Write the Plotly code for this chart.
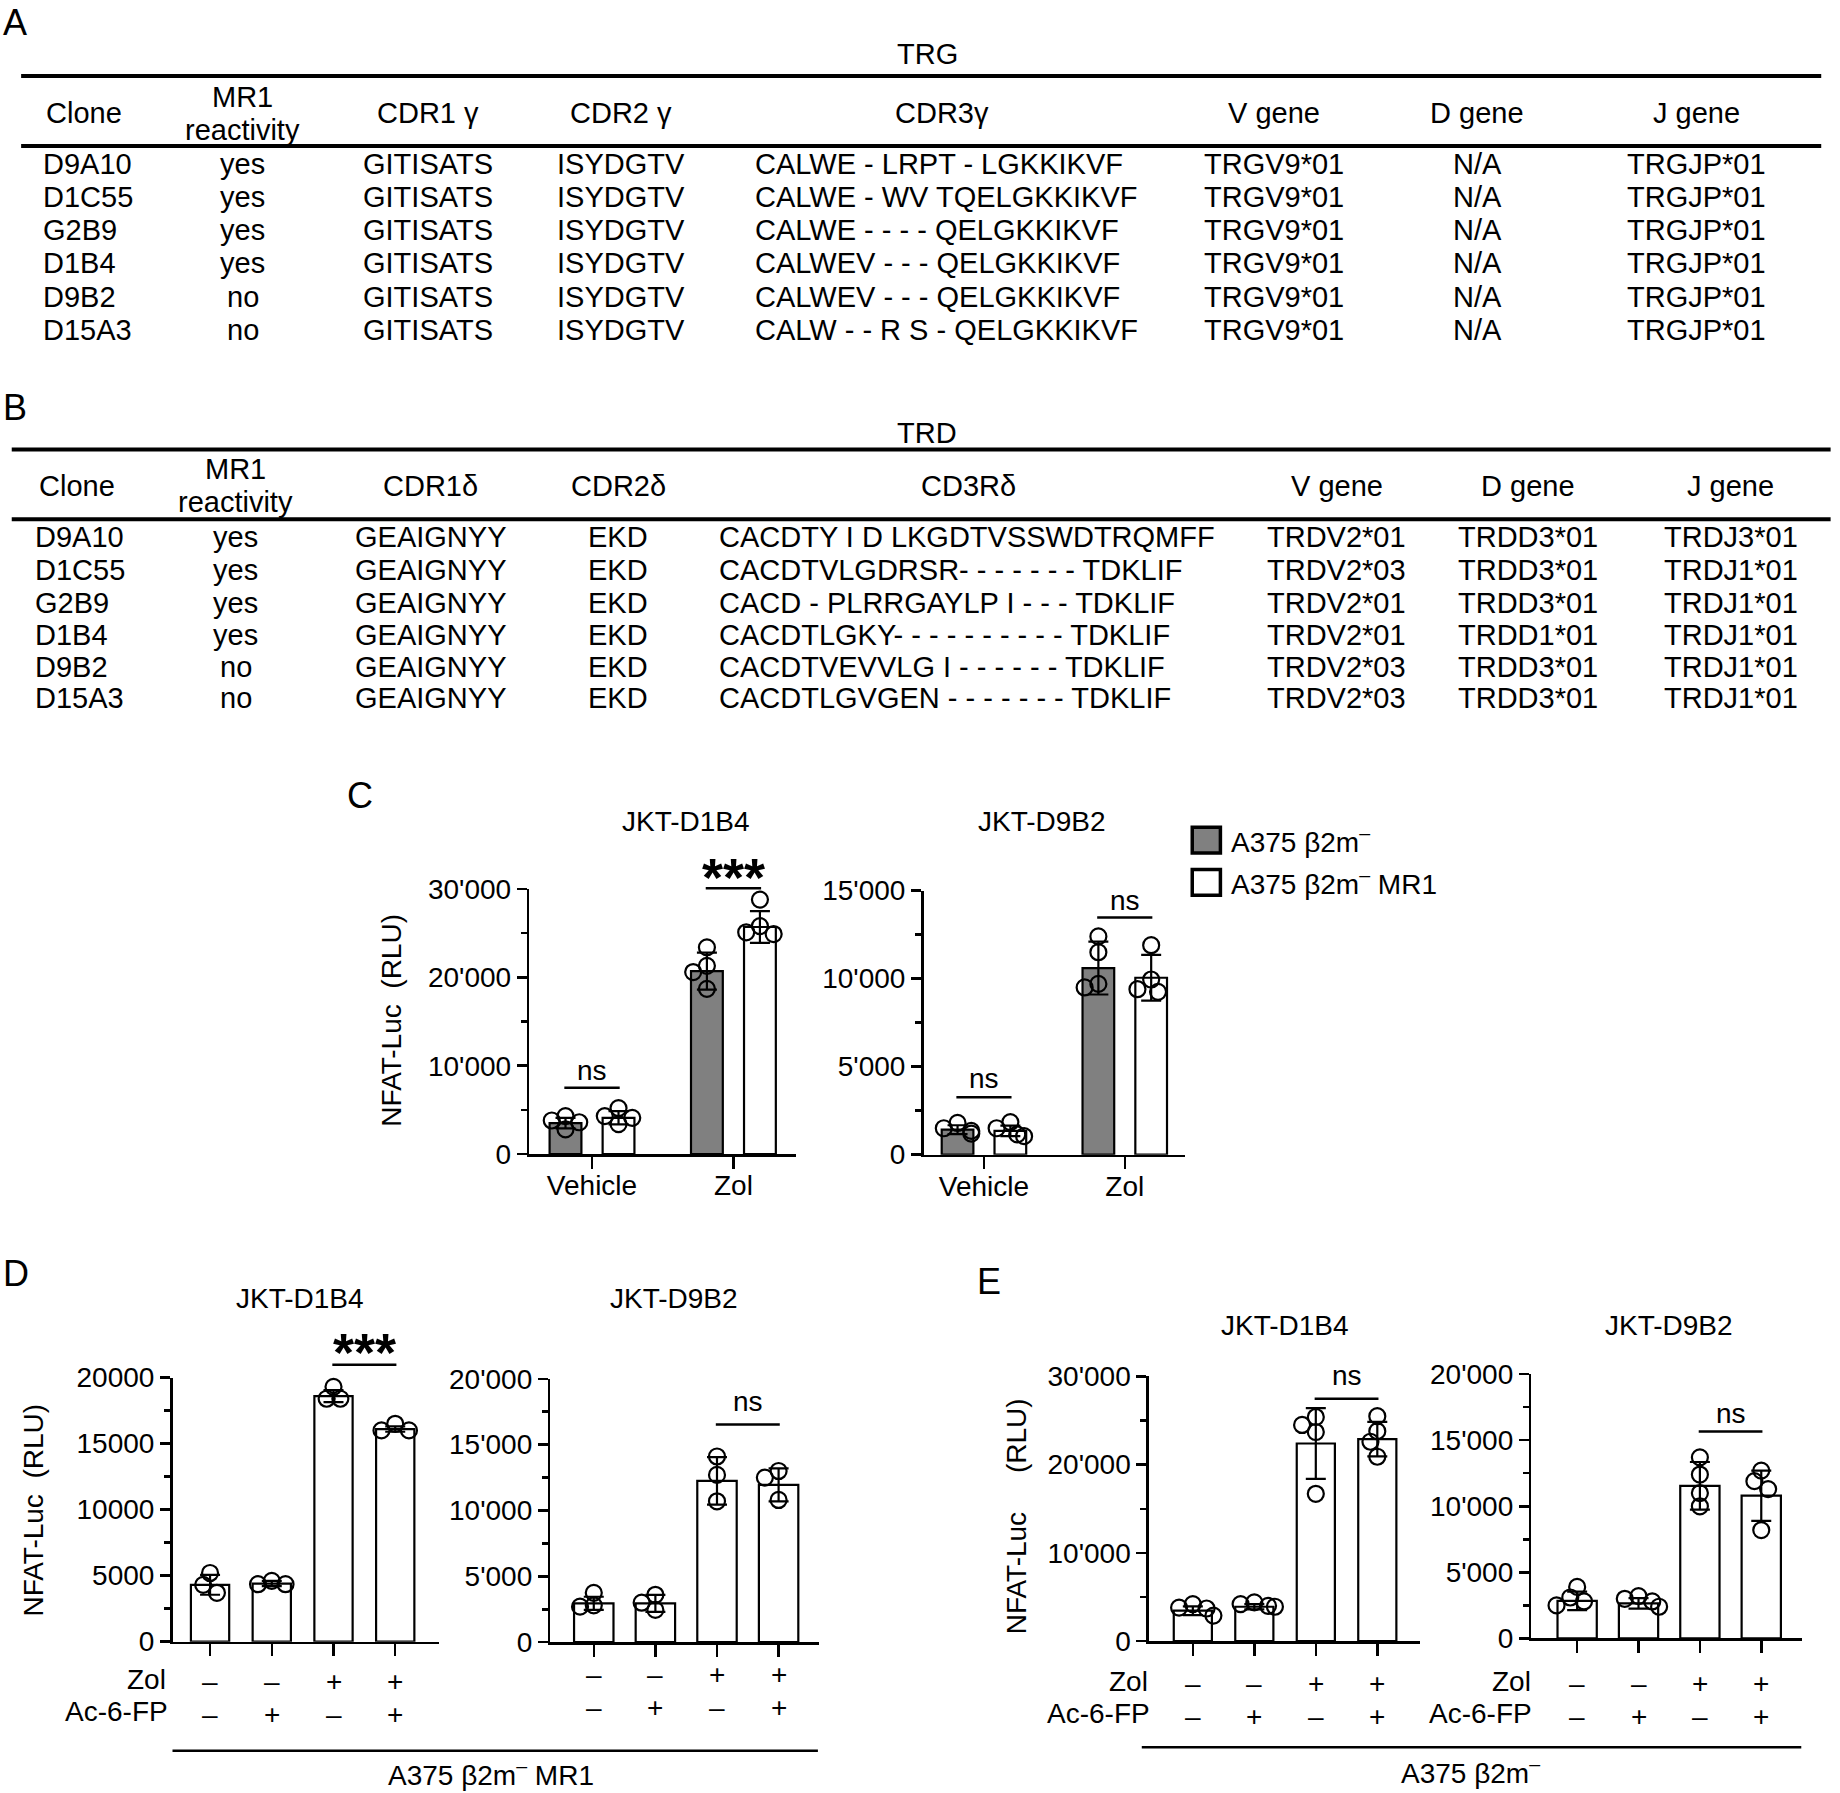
import plotly.graph_objects as go

# ===================== TABLE DATA =====================
clones = ["D9A10", "D1C55", "G2B9", "D1B4", "D9B2", "D15A3"]
mr1_reactivity = ["yes", "yes", "yes", "yes", "no", "no"]

trg_headers = ["Clone", "MR1<br>reactivity", "CDR1 γ", "CDR2 γ", "CDR3γ", "V gene", "D gene", "J gene"]
trg_cdr1 = ["GITISATS", "GITISATS", "GITISATS", "GITISATS", "GITISATS", "GITISATS"]
trg_cdr2 = ["ISYDGTV", "ISYDGTV", "ISYDGTV", "ISYDGTV", "ISYDGTV", "ISYDGTV"]
trg_cdr3 = ["CALWE - LRPT - LGKKIKVF", "CALWE - WV TQELGKKIKVF", "CALWE - - - - QELGKKIKVF",
            "CALWEV - - - QELGKKIKVF", "CALWEV - - - QELGKKIKVF", "CALW - - R S - QELGKKIKVF"]
trg_v = ["TRGV9*01", "TRGV9*01", "TRGV9*01", "TRGV9*01", "TRGV9*01", "TRGV9*01"]
trg_d = ["N/A", "N/A", "N/A", "N/A", "N/A", "N/A"]
trg_j = ["TRGJP*01", "TRGJP*01", "TRGJP*01", "TRGJP*01", "TRGJP*01", "TRGJP*01"]

trd_headers = ["Clone", "MR1<br>reactivity", "CDR1δ", "CDR2δ", "CD3Rδ", "V gene", "D gene", "J gene"]
trd_cdr1 = ["GEAIGNYY", "GEAIGNYY", "GEAIGNYY", "GEAIGNYY", "GEAIGNYY", "GEAIGNYY"]
trd_cdr2 = ["EKD", "EKD", "EKD", "EKD", "EKD", "EKD"]
trd_cdr3 = ["CACDTY I D LKGDTVSSWDTRQMFF", "CACDTVLGDRSR- - - - - - - TDKLIF",
            "CACD - PLRRGAYLP I - - - TDKLIF", "CACDTLGKY- - - - - - - - - - TDKLIF",
            "CACDTVEVVLG I - - - - - - TDKLIF", "CACDTLGVGEN - - - - - - - TDKLIF"]
trd_v = ["TRDV2*01", "TRDV2*03", "TRDV2*01", "TRDV2*01", "TRDV2*03", "TRDV2*03"]
trd_d = ["TRDD3*01", "TRDD3*01", "TRDD3*01", "TRDD1*01", "TRDD3*01", "TRDD3*01"]
trd_j = ["TRDJ3*01", "TRDJ1*01", "TRDJ1*01", "TRDJ1*01", "TRDJ1*01", "TRDJ1*01"]

# ===================== CHART DATA =====================
c_categories = ["Vehicle", "Zol"]
c_series_names = ["A375 β2m<sup>–</sup>", "A375 β2m<sup>–</sup> MR1"]

c1_mean_b2m = [3500, 20700]
c1_sd_b2m = [600, 2100]
c1_pts_b2m = [[4300, 3800, 3600, 2800], [23400, 21300, 20600, 18700]]
c1_mean_mr1 = [4100, 25700]
c1_sd_mr1 = [750, 1800]
c1_pts_mr1 = [[5200, 4300, 4100, 3400], [28800, 25800, 25100, 24900]]

c2_mean_b2m = [1420, 10600]
c2_sd_b2m = [250, 1500]
c2_pts_b2m = [[1800, 1500, 1350, 1200], [12400, 11500, 9700, 9500]]
c2_mean_mr1 = [1350, 10050]
c2_sd_mr1 = [300, 1300]
c2_pts_mr1 = [[1850, 1500, 1150, 1050], [11900, 9950, 9400, 9250]]

de_zol = ["–", "–", "+", "+"]
de_ac6fp = ["–", "+", "–", "+"]

d1_mean = [4300, 4400, 18600, 16100]
d1_sd = [750, 200, 450, 200]
d1_pts = [[5200, 4300, 3700], [4600, 4350, 4350], [19300, 18400, 18400], [16500, 16000, 16000]]

d2_mean = [2950, 2950, 12250, 11950]
d2_sd = [500, 650, 1800, 1250]
d2_pts = [[3750, 2800, 2700], [3600, 3000, 2450], [14100, 12700, 10700], [13000, 12500, 10800]]

e1_mean = [3450, 3900, 22400, 22900]
e1_sd = [500, 300, 4000, 1950]
e1_pts = [[4200, 3800, 3700, 2900], [4400, 4200, 4000, 3900], [25400, 24500, 23700, 16700], [25500, 23800, 22600, 20900]]

e2_mean = [2850, 2650, 11550, 10800]
e2_sd = [700, 400, 1800, 1900]
e2_pts = [[3900, 3100, 2800, 2500], [3200, 3000, 2800, 2400], [13700, 12400, 11000, 10000], [12700, 11900, 11300, 8200]]

chart_titles = ["JKT-D1B4", "JKT-D9B2", "JKT-D1B4", "JKT-D9B2", "JKT-D1B4", "JKT-D9B2"]

# ===================== LAYOUT HELPERS =====================
W, H = 1840, 1793
DW, DH = 1568.0, 1528.0   # design units (reference shown at 1568x1528)


def X(v):
    return v / DW


def Y(v):
    return 1 - v / DH


FONT = "Liberation Sans, Arial, Helvetica, sans-serif"
BLACK = "#000000"
GRAY = "#808080"
TXT = 28
TAB = 29
TICK = 28
YT = 28

annotations = []
shapes = []


def text(x, y, s, size=TXT, xanchor="center", yanchor="middle", bold=False, **kw):
    annotations.append(dict(x=X(x), y=Y(y), xref="paper", yref="paper", text=s, showarrow=False,
                            xanchor=xanchor, yanchor=yanchor,
                            font=dict(family=FONT, size=size, color=BLACK,
                                      weight="bold" if bold else "normal"), **kw))


def hline(x0, x1, y, w=2.5):
    shapes.append(dict(type="line", xref="paper", yref="paper", x0=X(x0), x1=X(x1), y0=Y(y), y1=Y(y),
                       line=dict(color=BLACK, width=w)))


# ===================== TABLES =====================
def draw_table(letter, letter_y, title, title_y, line1_y, line_x, headers, header_x, header_y,
               line2_y, columns, col_x, col_align, row_y):
    text(1, letter_y, letter, size=36, xanchor="left")
    text(sum(line_x) / 2 + 5, title_y, title, size=TAB)
    hline(line_x[0], line_x[1], line1_y, w=4)
    for h, hx in zip(headers, header_x):
        parts = h.split("<br>")
        if len(parts) == 1:
            text(hx, header_y, h, size=TAB)
        else:
            text(hx, header_y - 14, parts[0], size=TAB)
            text(hx, header_y + 14, parts[1], size=TAB)
    hline(line_x[0], line_x[1], line2_y, w=4)
    for col, cx, al in zip(columns, col_x, col_align):
        for v, ry in zip(col, row_y):
            text(cx, ry, v, xanchor=al, size=TAB)


draw_table("A", 19, "TRG", 46, 64.8, (18, 1552), trg_headers,
           [72, 207, 365, 529, 803, 1086, 1259, 1446], 96.6, 124.5,
           [clones, mr1_reactivity, trg_cdr1, trg_cdr2, trg_cdr3, trg_v, trg_d, trg_j],
           [35, 207, 365, 529, 642, 1086, 1259, 1446],
           ["left", "center", "center", "center", "left", "center", "center", "center"],
           [140, 168, 196, 224.1, 253, 281.2])

draw_table("B", 347, "TRD", 369, 383, (10, 1560), trd_headers,
           [66, 201, 367, 527, 825, 1139, 1302, 1475], 414, 442.5,
           [clones, mr1_reactivity, trd_cdr1, trd_cdr2, trd_cdr3, trd_v, trd_d, trd_j],
           [28.4, 201, 367, 527, 611, 1139, 1302, 1475],
           ["left", "center", "center", "center", "left", "center", "center", "center"],
           [458, 485.7, 514, 541.5, 568.5, 595])

# ===================== CHARTS =====================
C_OFF = 0.1875
charts = [
    dict(left=451, right=678, y0=983.5, ytop=757.6, ymax=30000, major=10000, minor=5000, fmt=",d",
         unit=120.5, first=504.5, barw=0.225, cats=c_categories, title_xy=(585, 700),
         series=[(c1_mean_b2m, c1_sd_b2m, c1_pts_b2m, GRAY, -C_OFF), (c1_mean_mr1, c1_sd_mr1, c1_pts_mr1, "white", C_OFF)]),
    dict(left=787, right=1010, y0=984, ytop=759, ymax=15000, major=5000, minor=2500, fmt=",d",
         unit=120, first=838.5, barw=0.225, cats=c_categories, title_xy=(888, 700),
         series=[(c2_mean_b2m, c2_sd_b2m, c2_pts_b2m, GRAY, -C_OFF), (c2_mean_mr1, c2_sd_mr1, c2_pts_mr1, "white", C_OFF)]),
    dict(left=147, right=374, y0=1399, ytop=1174, ymax=20000, major=5000, minor=2500, fmt="d",
         unit=52.6, first=179, barw=0.62, cats=None, title_xy=(256, 1107),
         series=[(d1_mean, d1_sd, d1_pts, "white", 0)]),
    dict(left=469, right=698, y0=1399.5, ytop=1175, ymax=20000, major=5000, minor=2500, fmt=",d",
         unit=52.5, first=506, barw=0.64, cats=None, title_xy=(574, 1107),
         series=[(d2_mean, d2_sd, d2_pts, "white", 0)]),
    dict(left=979, right=1210, y0=1398.6, ytop=1173, ymax=30000, major=10000, minor=5000, fmt=",d",
         unit=52.4, first=1016.5, barw=0.62, cats=None, title_xy=(1095, 1130),
         series=[(e1_mean, e1_sd, e1_pts, "white", 0)]),
    dict(left=1305, right=1536, y0=1396.3, ytop=1171, ymax=20000, major=5000, minor=2500, fmt=",d",
         unit=52.3, first=1344, barw=0.64, cats=None, title_xy=(1422, 1130),
         series=[(e2_mean, e2_sd, e2_pts, "white", 0)]),
]

DIAM = 13.0  # marker diameter in design units


def swarm(vals, ypv, xpu, maxoff):
    placed = []
    offs = []
    cands = [0.0]
    for j in range(1, 6):
        cands += [-0.45 * j * DIAM, 0.45 * j * DIAM]
    cands = [c for c in cands if abs(c) <= maxoff]
    for v in vals:
        yp = v * ypv
        chosen = cands[-1]
        for c in cands:
            if all((c - a) ** 2 + (yp - b) ** 2 >= (0.82 * DIAM) ** 2 for a, b in placed):
                chosen = c
                break
        placed.append((chosen, yp))
        offs.append(chosen / xpu)
    return offs


def aref(i, c):
    return c if i == 1 else f"{c}{i}"


def aname(i, c):
    return f"{c}axis" if i == 1 else f"{c}axis{i}"


axes = {}
traces = []
for i, ch in enumerate(charts, start=1):
    n = len(ch["series"][0][0])
    xr = [(ch["left"] - ch["first"]) / ch["unit"], (ch["right"] - ch["first"]) / ch["unit"]]
    xax = dict(
        domain=[X(ch["left"]), X(ch["right"])], range=xr, anchor=aref(i, "y"), automargin=False,
        showline=True, linecolor=BLACK, linewidth=2.5, ticks="outside", ticklen=12, tickwidth=2.5,
        tickcolor=BLACK, tickmode="array", tickvals=list(range(n)),
        showticklabels=bool(ch["cats"]), tickfont=dict(family=FONT, size=TXT, color=BLACK),
        showgrid=False, zeroline=False, fixedrange=True)
    if ch["cats"]:
        xax["ticktext"] = ch["cats"]
        xax["ticklabelstandoff"] = -7
    axes[aname(i, "x")] = xax
    axes[aname(i, "y")] = dict(
        domain=[Y(ch["y0"]), Y(ch["ytop"])], range=[0, ch["ymax"]], anchor=aref(i, "x"), automargin=False,
        showline=True, linecolor=BLACK, linewidth=2.5, ticks="outside", ticklen=10, tickwidth=2.5,
        tickcolor=BLACK, tickmode="linear", tick0=0, dtick=ch["major"], tickformat=ch["fmt"],
        tickfont=dict(family=FONT, size=TICK, color=BLACK),
        minor=dict(dtick=ch["minor"], ticks="outside", ticklen=6, tickwidth=2.5, tickcolor=BLACK, showgrid=False),
        showgrid=False, zeroline=False, fixedrange=True)
    ypv = (ch["y0"] - ch["ytop"]) / ch["ymax"]
    for mean, sd, pts, fill, off in ch["series"]:
        xs = [k + off for k in range(n)]
        traces.append(go.Bar(x=xs, y=mean, width=ch["barw"],
                             marker=dict(color=fill, line=dict(color=BLACK, width=2.2)),
                             error_y=dict(type="data", array=sd, visible=True, color=BLACK, thickness=2.2, width=10),
                             xaxis=aref(i, "x"), yaxis=aref(i, "y"), showlegend=False, hoverinfo="skip"))
    maxoff = ch["barw"] * ch["unit"] / 2 + 2
    for mean, sd, pts, fill, off in ch["series"]:
        px, py = [], []
        for k, vals in enumerate(pts):
            offs = swarm(vals, ypv, ch["unit"], maxoff)
            px += [k + off + o for o in offs]
            py += vals
        traces.append(go.Scatter(x=px, y=py, mode="markers", cliponaxis=False, hoverinfo="skip",
                                 marker=dict(symbol="circle-open", size=16, color=BLACK, line=dict(width=2.2)),
                                 xaxis=aref(i, "x"), yaxis=aref(i, "y"), showlegend=False))
    text(ch["title_xy"][0], ch["title_xy"][1], chart_titles[i - 1])

fig = go.Figure(data=traces)


def xpos(ci, pos):
    ch = charts[ci]
    return ch["first"] + pos * ch["unit"]


# significance marks: (chart, label, pos_a, pos_b, line_y, text_y)
sig_marks = [
    (0, "ns", -C_OFF, C_OFF, 927, 912),
    (0, "***", 1 - C_OFF, 1 + C_OFF, 757, 740),
    (1, "ns", -C_OFF, C_OFF, 935, 919),
    (1, "ns", 1 - C_OFF, 1 + C_OFF, 782, 767),
    (2, "***", 2, 3, 1163, 1145),
    (3, "ns", 2, 3, 1214, 1194),
    (4, "ns", 2, 3, 1192, 1172),
    (5, "ns", 2, 3, 1220, 1205),
]
for ci, lab, a, b, ly, ty in sig_marks:
    xa, xb = xpos(ci, a) - 1, xpos(ci, b) + 1
    hline(xa, xb, ly, w=2.5)
    if lab == "***":
        text((xa + xb) / 2, ty + 7, lab, size=54, bold=True)
    else:
        text((xa + xb) / 2, ty, lab)

# panel letters
text(294, 678, "C", size=36, xanchor="left")
text(1, 1085, "D", size=36, xanchor="left")
text(831, 1092.5, "E", size=36, xanchor="left")

# y-axis titles
text(334, 869, "NFAT-Luc\u00a0\u00a0(RLU)", size=YT, textangle=-90)
text(28.4, 1287, "NFAT-Luc\u00a0\u00a0(RLU)", size=YT, textangle=-90)
text(866, 1292, "NFAT-Luc\u00a0\u00a0\u00a0\u00a0\u00a0(RLU)", size=YT, textangle=-90)

# legend for panel C
legend_y = [716, 752]
for name, fill, ly in zip(c_series_names, [GRAY, "white"], legend_y):
    shapes.append(dict(type="rect", xref="paper", yref="paper", x0=X(1016), x1=X(1040), y0=Y(ly + 11), y1=Y(ly - 11),
                       fillcolor=fill, line=dict(color=BLACK, width=3.5)))
    text(1047, ly, name, xanchor="left")

# treatment rows for D and E: (chart index, zol row y, ac-6-fp row y, show labels, label right x)
treat_rows = [
    (2, 1433, 1461, True, 143.5),
    (3, 1427, 1455, False, None),
    (4, 1435, 1463, True, 980),
    (5, 1435, 1463, True, 1306),
]
for ci, yz, ya, lab, lx in treat_rows:
    i = ci + 1
    for k, (z, a) in enumerate(zip(de_zol, de_ac6fp)):
        for s, yy in ((z, yz), (a, ya)):
            annotations.append(dict(x=k, y=Y(yy), xref=aref(i, "x"), yref="paper", text=s, showarrow=False,
                                    xanchor="center", yanchor="middle",
                                    font=dict(family=FONT, size=TXT, color=BLACK)))
    if lab:
        text(lx, yz - 2, "Zol", xanchor="right")
        text(lx + 1.5, ya - 2.5, "Ac-6-FP", xanchor="right")

hline(147, 697, 1492, w=2.5)
text(418, 1511, "A375 β2m<sup>–</sup> MR1")
hline(973, 1535, 1489, w=2.5)
text(1253, 1509, "A375 β2m<sup>–</sup>")

fig.update_layout(
    width=W, height=H, margin=dict(l=0, r=0, t=0, b=0, autoexpand=False),
    paper_bgcolor="white", plot_bgcolor="white", showlegend=False,
    barmode="overlay", separators=".'", hovermode=False,
    font=dict(family=FONT, color=BLACK),
    annotations=annotations, shapes=shapes, **axes)

fig.write_html("out.html", config={"displayModeBar": False, "staticPlot": True}, post_script=(
    "document.body.style.margin='0';document.body.style.padding='0';"
    "document.body.style.overflow='hidden';document.documentElement.style.overflow='hidden';"))
